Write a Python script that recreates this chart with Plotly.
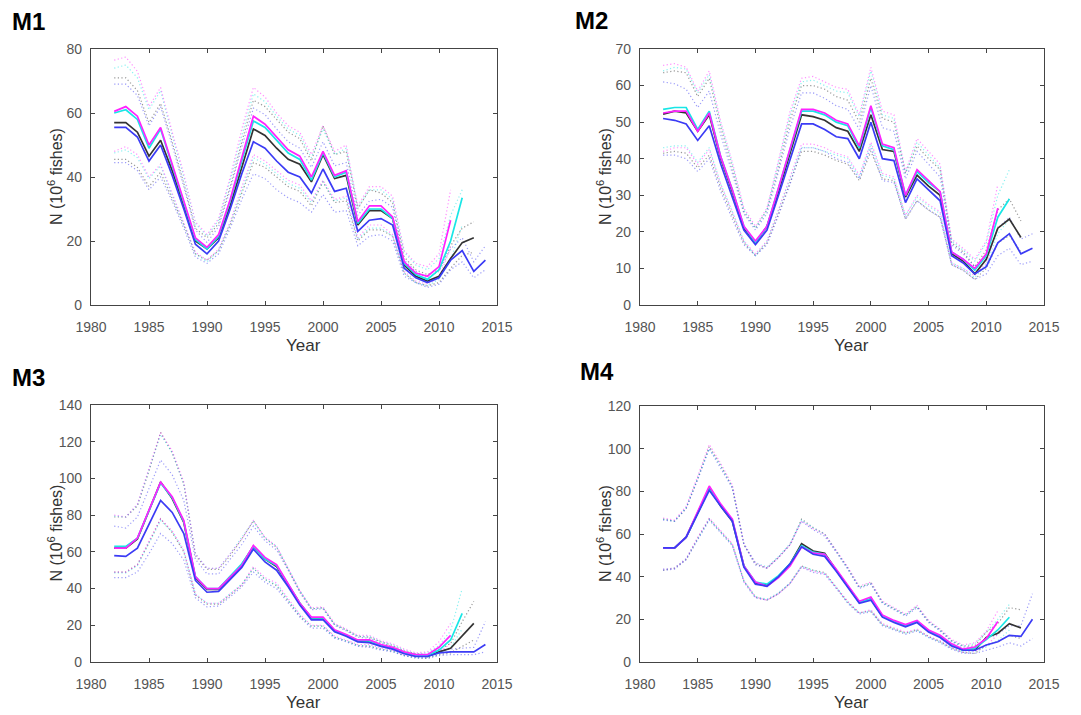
import plotly.graph_objects as go

YEARS = list(range(1982, 2015))

# ---- M1 ----
M1_MAG = [60.5, 62, 59, 50, 55.5, 44, 33, 21, 18, 22, 33, 46, 59, 56.5, 52.5, 48.5, 46.5, 40, 48, 40.5,
          42, 26, 31, 31, 27.5, 13.5, 10, 9, 12, 26.5]
M1_MAG_HI = [76.5, 77.5, 73, 62, 68, 54, 41, 26, 22, 27, 40, 55, 68, 65, 60, 56, 54, 47, 56, 48,
             50, 31, 37, 37, 34, 17, 13, 12, 16, 36]
M1_MAG_LO = [48, 49.5, 47, 40, 44, 35, 26, 16.5, 14, 17.5, 26, 37, 47, 45, 42, 39, 37.5, 32.5, 39, 33,
             34, 21, 25, 25, 22, 10.5, 7.5, 6.5, 8.5, 18]
M1_CYA = [60, 61, 58, 49, 55, 43.5, 32.5, 20.5, 17.5, 21.5, 32.5, 45, 57.5, 55.5, 51.5, 47.5, 45.5, 39, 47.5, 40,
          41.5, 25.5, 30, 30, 27, 13, 9.5, 8, 11, 20, 33.5]
M1_CYA_HI = [74, 75, 71, 61, 67, 53, 40, 25.5, 21.5, 26.5, 39, 53, 66, 63.5, 59, 55, 53, 46, 55, 47,
             49, 30.5, 36, 36, 33, 16.5, 12.5, 11, 14.5, 28, 36]
M1_CYA_LO = [47.5, 48.5, 46, 39.5, 43.5, 34.5, 25.5, 16, 13.5, 17, 25.5, 36, 46, 44, 41, 38, 36.5, 32, 38.5, 32.5,
             33.5, 20.5, 24, 24, 21.5, 10, 7, 6, 8, 14, 25]
M1_BLK = [57, 57, 54, 46.5, 51.5, 42, 31, 20, 17.5, 21, 31, 43, 55, 53, 49, 45.5, 44, 38.5, 47, 39.5,
          40.5, 25, 29.5, 29.5, 27, 12.5, 9, 7.5, 9, 14.5, 19.5, 21]
M1_BLK_HI = [71, 71, 67, 57, 63, 51, 38, 24, 21, 25.5, 37, 51, 64, 62, 58, 54, 52, 45, 56, 47,
             48, 30, 36, 35, 32, 15, 11, 9.5, 11, 18.5, 24, 26]
M1_BLK_LO = [45.5, 45.5, 43, 37, 41.5, 33.5, 25, 16, 14, 17, 25, 35, 44.5, 43, 40, 37, 35.5, 31, 38.5, 32,
             32.5, 20, 23.5, 23.5, 21.5, 10, 7, 6, 7, 11.5, 15.5, 16.5]
M1_BLU = [55.5, 55.5, 52.5, 45, 50, 40.5, 30, 19, 16, 20, 30, 41, 51, 49, 45, 41.5, 40, 35, 42.5, 35.5,
          36.5, 23, 26.5, 27, 25, 11.5, 8.5, 7, 8.5, 14, 17, 10.5, 14]
M1_BLU_HI = [69, 69, 65.5, 56, 62, 50, 37, 23.5, 19.5, 24.5, 36, 49.5, 61.5, 59.5, 55, 51, 49, 43, 51, 43.5,
             44.5, 28, 32.5, 33, 30.5, 14, 10.5, 8.5, 10.5, 17.5, 21, 13.5, 18.5]
M1_BLU_LO = [44.5, 44.5, 42, 36, 40, 32.5, 24, 15, 13, 16, 24, 33, 41, 39.5, 36, 33.5, 32, 29, 34.5, 29,
             29.5, 18.5, 21.5, 22, 20, 9, 7, 5.5, 6.5, 11, 13.5, 8.5, 11]

# ---- M2 ----
M2_MAG = [52.5, 53, 53, 47.5, 52.5, 40.5, 31.5, 21.5, 17.5, 21.5, 32, 43, 53.5, 53.5, 52.5, 50.5, 49.5, 43.5, 54.5, 44,
          43, 30, 37, 34, 31, 14.5, 12.5, 10, 14, 26.5]
M2_MAG_HI = [65.5, 66, 65, 58.5, 64, 50, 39, 26.5, 21.5, 26.5, 39.5, 53, 62, 62.5, 61, 59.5, 59, 52, 65, 53,
             52, 36.5, 45.5, 42, 38.5, 18, 15.5, 12.5, 17.5, 33]
M2_MAG_LO = [42, 43, 43, 38.5, 42.5, 33, 25.5, 17.5, 14, 17.5, 26, 35, 44, 44, 43, 41.5, 40.5, 35.5, 44.5, 36,
             35, 24.5, 30, 27.5, 25.5, 11.5, 10, 8, 11.5, 21.5]
M2_CYA = [53.5, 54, 54, 48, 53, 40.5, 31.5, 21.5, 17, 21.5, 32, 42.5, 53, 53, 52, 50, 49, 43, 54, 43.5,
          42.5, 30, 36.5, 33.5, 31, 14.5, 12.5, 9.5, 13.5, 24, 29]
M2_CYA_HI = [64, 65, 64.5, 58, 63, 49.5, 38.5, 26, 21, 26, 39, 52, 61, 61.5, 60, 58.5, 58, 51.5, 64, 52,
             51, 36, 44.5, 41, 37.5, 17.5, 15, 12, 17, 30, 37]
M2_CYA_LO = [43, 43.5, 43.5, 39, 43, 33, 25.5, 17.5, 13.5, 17.5, 26, 34.5, 43, 43, 42, 41, 40, 35, 44, 35.5,
             34.5, 24.5, 29.5, 27, 25, 11.5, 10, 7.5, 11, 19.5, 23.5]
M2_BLK = [52.2, 53, 52.5, 47.5, 52, 40, 31, 21, 17, 21.5, 31, 41.5, 52, 51.5, 50.5, 48.5, 47.5, 42, 52, 42.5,
          42, 29.5, 35.5, 32.5, 30, 14, 12, 8.5, 12.5, 21, 23.5, 18.5]
M2_BLK_HI = [63.5, 64, 63.5, 57, 62, 48.5, 37.5, 25.5, 21, 26, 37.5, 50.5, 60, 60, 59, 57, 56, 50, 62, 51,
             50, 36, 43.5, 40, 37, 17, 14.5, 10.5, 15, 26, 29, 23]
M2_BLK_LO = [41.5, 42, 41.5, 37.5, 41, 32, 24.5, 17, 13.5, 17, 25, 33.5, 42, 42, 41, 39.5, 38.5, 34, 42, 34.5,
             34, 23.5, 28.5, 26, 24, 11, 9.5, 7, 10, 17, 19, 14.5]
M2_BLU = [51, 50.5, 49.5, 45, 49, 38.5, 29.5, 20.5, 16.5, 20.5, 30, 40, 49.5, 49.5, 48, 46, 45.5, 40, 50, 40,
          39.5, 28, 34.5, 31.5, 28.5, 13.5, 11.5, 8.5, 10.5, 17, 19.5, 14, 15.5]
M2_BLU_HI = [61, 60.5, 59, 54, 58.5, 46.5, 36, 25, 20.5, 25, 36.5, 48.5, 58, 58, 56.5, 54.5, 53.5, 48, 60, 48.5,
             47.5, 34.5, 42, 38.5, 35, 16.5, 14, 10.5, 13, 21, 24, 18, 19.5]
M2_BLU_LO = [41, 41, 40, 36.5, 40, 31, 23.5, 16.5, 13.5, 16.5, 24.5, 33, 43, 43, 42, 40, 39, 34.5, 43, 34,
             33.5, 23.5, 28.5, 26, 24, 11, 9.5, 7, 8.5, 13.5, 15.5, 11, 12]

# ---- M3 ----
M3_MAG = [62, 62, 67.5, 83, 98, 90, 77, 46.5, 40, 40, 46, 52.5, 63.5, 57, 53, 42.5, 32, 24.5, 24.5, 17.5,
          15, 12, 12, 9.5, 8, 5.5, 4, 4, 8, 14.5]
M3_MAG_HI = [80, 79, 86, 106, 125, 115, 98, 59, 51, 51, 59, 67, 77, 68, 63, 51, 39, 29.5, 30, 21,
             18, 14.5, 14.5, 11.5, 10, 7, 5, 5.5, 11, 21]
M3_MAG_LO = [49, 49, 53, 66, 78, 71.5, 61, 37, 32, 32, 37, 42, 52, 46, 43, 34.5, 26, 20, 20, 14,
             12, 9.5, 9.5, 7.5, 6.5, 4, 3, 3, 5.5, 10]
M3_CYA = [63, 63, 67.5, 82.5, 97.5, 89.5, 76.5, 46.5, 40, 40, 46.5, 53.5, 63, 56, 52.5, 42, 32, 24, 24, 17,
          14.5, 11.5, 11.5, 9, 7.5, 5, 3.5, 3.5, 6.5, 12, 26.5]
M3_CYA_HI = [79.5, 79, 85.5, 105, 124, 114, 97, 59, 51, 51, 59, 68, 76.5, 67.5, 63, 51, 39, 29, 29.5, 20.5,
             17.5, 14, 14, 11, 9.5, 6.5, 4.5, 5, 9, 17, 40]
M3_CYA_LO = [48.5, 48.5, 52.5, 65, 77, 71, 60.5, 37, 32, 32, 37, 42.5, 51, 45, 42, 33.5, 25.5, 19.5, 19.5, 13.5,
             11.5, 9, 9, 7, 6, 3.5, 2.5, 2.5, 4.5, 8, 18]
M3_BLK = [62, 62, 67, 82, 98, 89, 76, 46, 39.5, 39.5, 46, 53, 63, 56, 52, 42, 32, 24, 24, 17,
          14.5, 11.5, 11, 9, 7.5, 5, 3.5, 3, 5.5, 7.5, 14, 21]
M3_BLK_HI = [79, 79, 85, 104, 125, 114, 97, 58, 50.5, 50.5, 58, 67, 77, 67.5, 62.5, 50.5, 38.5, 29, 29.5, 20.5,
             17.5, 14, 13.5, 11, 9, 6, 4.5, 4, 7, 10, 22, 33]
M3_BLK_LO = [49, 49, 53, 65, 78, 70.5, 60, 36.5, 31.5, 31.5, 36.5, 42, 51, 45, 41.5, 33, 25, 19.5, 19.5, 13.5,
             11.5, 9, 8.5, 7, 6, 3.5, 2.5, 2, 4, 5, 8.5, 12]
M3_BLU = [58, 57.5, 62, 75, 88, 81.5, 70, 44.5, 38, 38.5, 45, 51.5, 61.5, 54.5, 50, 41, 31, 23, 23, 16.5,
          14, 11, 10.5, 8.5, 7, 4.5, 3, 3, 5, 5.5, 5.5, 5.5, 9.5]
M3_BLU_HI = [74, 73, 79, 95, 110, 102, 88, 56, 48, 48, 56, 64, 74, 66, 61, 50, 38, 28.5, 29, 20,
             17, 13.5, 13, 10.5, 8.5, 5.5, 4, 4, 6.5, 7, 7.5, 8, 22]
M3_BLU_LO = [46, 46, 49, 59, 70, 64.5, 55.5, 35, 30, 30.5, 35.5, 41, 49, 43.5, 40, 32.5, 24.5, 18.5, 18.5, 13,
             11, 8.5, 8, 6.5, 5.5, 3.5, 2, 2, 3.5, 4, 4, 4, 5.5]

# ---- M4 ----
M4_MAG = [53.5, 53.5, 58.5, 70.5, 82.5, 74, 67, 45, 37.5, 35.5, 39.5, 45, 54, 51, 50.5, 43.5, 36, 28.5, 30.5, 22,
          19.5, 17.5, 19.5, 15, 12.5, 8.5, 6, 7, 11, 19]
M4_MAG_HI = [67.5, 66.5, 73, 87, 102, 93, 83, 55.5, 46.5, 44, 49, 55, 66, 62.5, 60, 52.5, 44.5, 35.5, 37.5, 28.5,
             25.5, 22.5, 26.5, 19.5, 15.5, 10.5, 8, 9, 14.5, 24]
M4_MAG_LO = [43.5, 44, 48.5, 58.5, 67.5, 61.5, 55.5, 38, 30.5, 29, 32, 36.5, 44.5, 42.5, 41.5, 35, 28.5, 23, 24.5, 18,
             16, 14, 15.5, 12, 10, 7, 4.5, 5, 7.5, 13]
M4_CYA = [53.5, 53.5, 58.5, 70, 81, 73.5, 66.5, 45, 37.5, 36.5, 40.5, 46, 54.5, 51.5, 50.5, 43, 35.5, 28, 29.5, 21.5,
          19, 17, 19, 14.5, 12, 8, 5.5, 6.5, 10.5, 15, 21]
M4_CYA_HI = [67, 66, 72.5, 86, 100, 92, 82, 55.5, 46.5, 44.5, 49.5, 55.5, 66.5, 63, 60, 52, 44, 35, 37, 28,
             25, 22, 26, 19, 15, 10, 7.5, 8.5, 14, 20, 27]
M4_CYA_LO = [43.5, 44, 48.5, 58, 67, 61, 55, 38, 30.5, 29.5, 32.5, 37, 45, 43, 41.5, 35, 28, 23, 24, 17.5,
             15.5, 13.5, 15, 11.5, 9.5, 6.5, 4.5, 5, 7, 10, 15]
M4_BLK = [53.5, 53.5, 58.5, 70, 81.5, 73, 66, 45, 37, 36, 40, 46, 55.5, 52, 51, 43, 35.5, 28, 29.5, 21.5,
          19, 17, 19, 14.5, 12, 8, 5.5, 5.5, 11.5, 13.5, 18, 16]
M4_BLK_HI = [67, 66, 72, 86, 101, 92, 82, 55, 46, 44, 49, 55, 67, 63, 60, 52, 44, 35, 37, 28,
             25, 22, 26, 19, 15, 10, 7.5, 7.5, 14, 18, 25.5, 24.5]
M4_BLK_LO = [43, 44, 48, 58, 67, 61, 55, 38, 30.5, 29, 32, 37, 45, 43, 42, 35, 28, 23, 24, 17.5,
             15.5, 13.5, 15, 12, 9.5, 6.5, 4.5, 4, 8, 9.5, 12.5, 11]
M4_BLU = [53.5, 53.5, 58.5, 69.5, 80.5, 73, 66, 44.5, 36.5, 35.5, 40, 46, 54, 50.5, 49.5, 42.5, 35, 27.5, 29, 21,
          18.5, 16.5, 18.5, 14, 11.5, 7.5, 5.5, 5.5, 8, 9.5, 12.5, 12, 20]
M4_BLU_HI = [66.5, 66, 72, 85.5, 100, 91, 81.5, 55, 45.5, 44, 49, 55, 66, 62, 59, 51.5, 43.5, 34.5, 36.5, 27.5,
             24.5, 21.5, 25.5, 18.5, 14.5, 9.5, 7, 7, 11, 13, 17, 17, 32]
M4_BLU_LO = [43, 43.5, 48, 57.5, 66.5, 60.5, 54.5, 37.5, 30, 29, 32, 37, 44.5, 42, 41, 34.5, 27.5, 22.5, 23.5, 17,
             15, 13, 14.5, 11.5, 9, 6, 4, 4, 5.5, 7, 9, 7.5, 11]

COLORS = {"mag": "#ff22ff", "cya": "#19e6e6", "blk": "#333333", "blu": "#3b3bf5"}

# drawing order: black, cyan, magenta, blue (blue ends up on top like the original)
PANELS = [
    ("M1", [("blk", M1_BLK, M1_BLK_LO, M1_BLK_HI), ("cya", M1_CYA, M1_CYA_LO, M1_CYA_HI),
            ("mag", M1_MAG, M1_MAG_LO, M1_MAG_HI), ("blu", M1_BLU, M1_BLU_LO, M1_BLU_HI)], 80, 20),
    ("M2", [("blk", M2_BLK, M2_BLK_LO, M2_BLK_HI), ("cya", M2_CYA, M2_CYA_LO, M2_CYA_HI),
            ("mag", M2_MAG, M2_MAG_LO, M2_MAG_HI), ("blu", M2_BLU, M2_BLU_LO, M2_BLU_HI)], 70, 10),
    ("M3", [("blk", M3_BLK, M3_BLK_LO, M3_BLK_HI), ("cya", M3_CYA, M3_CYA_LO, M3_CYA_HI),
            ("mag", M3_MAG, M3_MAG_LO, M3_MAG_HI), ("blu", M3_BLU, M3_BLU_LO, M3_BLU_HI)], 140, 20),
    ("M4", [("blk", M4_BLK, M4_BLK_LO, M4_BLK_HI), ("cya", M4_CYA, M4_CYA_LO, M4_CYA_HI),
            ("mag", M4_MAG, M4_MAG_LO, M4_MAG_HI), ("blu", M4_BLU, M4_BLU_LO, M4_BLU_HI)], 120, 20),
]

W, H = 1081, 715
OFF = 8  # the page body adds an 8px margin, so shift everything back by that much
# plot-area boxes in page pixels: (left, right, top, bottom)
BOXES = [(91, 497, 49, 305), (640, 1044, 49, 305), (91, 497, 405, 662), (640, 1044, 406, 662)]
TITLE_POS = [(10, 21), (573, 20), (10, 377), (578, 372)]


def px_x(p):
    return (p - OFF) / W


def px_y(p):
    return 1 - (p - OFF) / H


fig = go.Figure()
tick_font = dict(family="Arial", size=14, color="#555555")

for i, (name, series, ymax, dy) in enumerate(PANELS):
    n = i + 1
    xa = "x" if n == 1 else f"x{n}"
    ya = "y" if n == 1 else f"y{n}"
    # dotted bounds first, then the central lines
    for key, mid, lo, hi in series:
        for band in (hi, lo):
            fig.add_trace(go.Scatter(
                x=YEARS[:len(band)], y=band, mode="lines", xaxis=xa, yaxis=ya,
                line=dict(color=COLORS[key], width=1.2, dash="1.2px,2.4px"),
                opacity=0.5, showlegend=False, hoverinfo="skip",
            ))
    for key, mid, lo, hi in series:
        fig.add_trace(go.Scatter(
            x=YEARS[:len(mid)], y=mid, mode="lines", xaxis=xa, yaxis=ya,
            line=dict(color=COLORS[key], width=1.7), showlegend=False,
        ))

    l, r, t, b = BOXES[i]
    ax_common = dict(showline=True, mirror="ticks", linecolor="#444444", linewidth=1.2,
                     ticks="inside", ticklen=4, tickcolor="#444444", tickfont=tick_font,
                     showgrid=False, zeroline=False, automargin=False)
    xkey = "xaxis" if n == 1 else f"xaxis{n}"
    ykey = "yaxis" if n == 1 else f"yaxis{n}"
    fig.update_layout(**{
        xkey: dict(domain=[px_x(l), px_x(r)], anchor=ya, range=[1980, 2015], dtick=5, tick0=1980,
                   ticklabelstandoff=9, **ax_common),
        ykey: dict(domain=[px_y(b), px_y(t)], anchor=xa, range=[0, ymax], dtick=dy,
                   ticklabelstandoff=5, **ax_common),
    })

    fig.add_annotation(text=f"<b>{name}</b>", x=px_x(TITLE_POS[i][0]), y=px_y(TITLE_POS[i][1]),
                       xref="paper", yref="paper", xanchor="left", yanchor="middle", showarrow=False,
                       font=dict(family="Arial", size=24, color="black"))
    fig.add_annotation(text="N (10<sup>6</sup> fishes)", x=px_x(l - 36), y=px_y((t + b) / 2),
                       xref="paper", yref="paper", textangle=-90, showarrow=False,
                       xanchor="center", yanchor="middle",
                       font=dict(family="Arial", size=16, color="#333333"))
    fig.add_annotation(text="Year", x=px_x((l + r) / 2 + 9), y=px_y(b + 40),
                       xref="paper", yref="paper", showarrow=False,
                       xanchor="center", yanchor="middle",
                       font=dict(family="Arial", size=17, color="#333333"))

fig.update_layout(
    width=W, height=H,
    margin=dict(l=0, r=0, t=0, b=0),
    paper_bgcolor="white", plot_bgcolor="white",
)

fig.write_html("out.html")
